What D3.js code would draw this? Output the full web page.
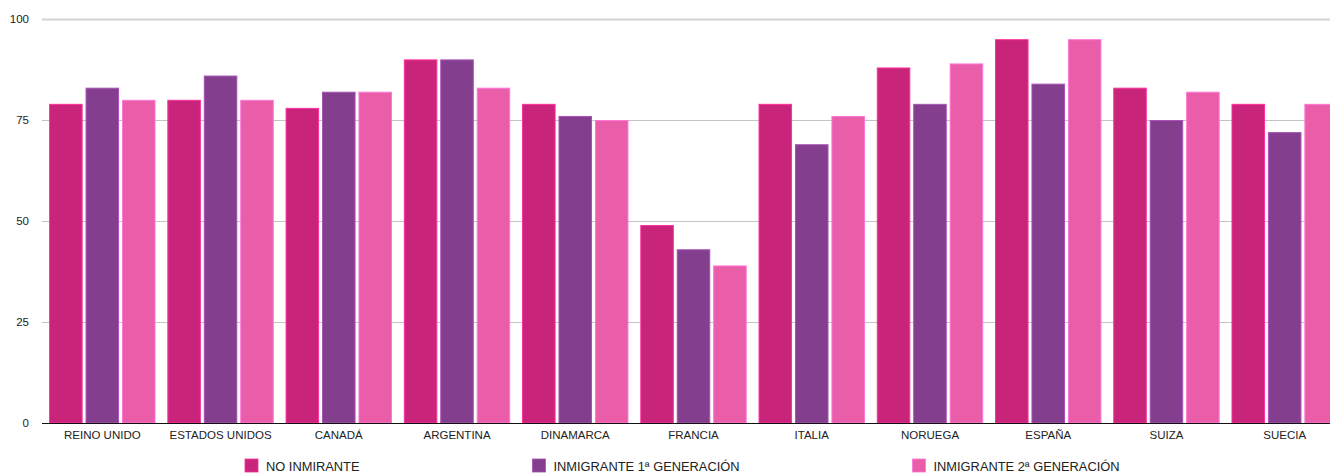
<!DOCTYPE html>
<html>
<head>
<meta charset="utf-8">
<script src="https://cdn.jsdelivr.net/npm/d3@7"></script>
<style>
  html, body { margin: 0; padding: 0; background: #fff; }
  svg { display: block; }
  text { font-family: "Liberation Sans", Arial, Helvetica, sans-serif; fill: #222; }
</style>
</head>
<body>
<svg id="chart" width="1330" height="473"></svg>
<script>
const categories = ["REINO UNIDO", "ESTADOS UNIDOS", "CANADÁ", "ARGENTINA", "DINAMARCA", "FRANCIA", "ITALIA", "NORUEGA", "ESPAÑA", "SUIZA", "SUECIA"];
const seriesNames = ["NO INMIRANTE", "INMIGRANTE 1ª GENERACIÓN", "INMIGRANTE 2ª GENERACIÓN"];
const noInmigrante = [79, 80, 78, 90, 79, 49, 79, 88, 95, 83, 79];
const inmigrante1 = [83, 86, 82, 90, 76, 43, 69, 79, 84, 75, 72];
const inmigrante2 = [80, 80, 82, 83, 75, 39, 76, 89, 95, 82, 79];
const yTicks = [0, 25, 50, 75, 100];
const colors = ["#C8247A", "#833F8E", "#EA5DA8"];

const seriesValues = [noInmigrante, inmigrante1, inmigrante2];
const svg = d3.select("#chart");

const mLeft = 42, mRight = 1345, mTop = 19, mBottom = 423;

const x0 = d3.scaleBand().domain(categories).range([mLeft, mRight]).paddingInner(0.1).paddingOuter(0.06);
const x1 = d3.scaleBand().domain(d3.range(3)).range([0, x0.bandwidth()]).paddingInner(0.08).paddingOuter(0);
const y = d3.scaleLinear().domain([0, 100]).range([mBottom, mTop]);

// gridlines
const grid = svg.append("g");
grid.selectAll("line").data(yTicks.filter(d => d > 0)).join("line")
  .attr("x1", mLeft).attr("x2", 1330)
  .attr("y1", d => Math.round(y(d)) + 0.5).attr("y2", d => Math.round(y(d)) + 0.5)
  .attr("stroke", d => d === 100 ? "#d4d4d4" : "#c4c4c4")
  .attr("stroke-width", d => d === 100 ? 2 : 1);

// y labels
const yAxis = d3.axisLeft(y).tickValues(yTicks).tickSize(0).tickPadding(0);
const yg = svg.append("g").attr("transform", `translate(${mLeft - 13},0)`).call(yAxis);
yg.select(".domain").remove();
yg.selectAll("text").attr("font-size", "11.5px").attr("fill", "#222")
  .attr("font-family", '"Liberation Sans", Arial, sans-serif');

// bars
const groups = svg.append("g").selectAll("g").data(categories).join("g")
  .attr("transform", d => `translate(${x0(d)},0)`);
groups.selectAll("rect").data((d, i) => seriesValues.map((s, k) => ({k, v: s[i]}))).join("rect")
  .attr("x", d => x1(d.k) + 0.5)
  .attr("width", x1.bandwidth() - 1)
  .attr("y", d => y(d.v) + 0.5)
  .attr("height", d => y(0) - y(d.v) - 0.5)
  .attr("fill", d => colors[d.k])
  .attr("stroke", d => d3.color(colors[d.k]).brighter(0.7))
  .attr("stroke-width", 1);

// x axis
const xAxis = d3.axisBottom(x0).tickSize(0).tickPadding(0);
const xg = svg.append("g").attr("transform", `translate(0,${mBottom})`).call(xAxis);
xg.select(".domain").remove();
svg.append("line").attr("x1", mLeft).attr("x2", 1330)
  .attr("y1", mBottom + 0.5).attr("y2", mBottom + 0.5).attr("stroke", "#111").attr("stroke-width", 1.2);
xg.selectAll("text").attr("dy", "16px").attr("font-size", "11.5px").attr("fill", "#222")
  .attr("font-family", '"Liberation Sans", Arial, sans-serif');

// legend
const legend = svg.append("g").attr("transform", "translate(245,459)");
let lx = 0;
seriesNames.forEach((name, i) => {
  const g = legend.append("g").attr("transform", `translate(${lx},0)`);
  g.append("rect").attr("width", 13).attr("height", 13).attr("fill", colors[i])
    .attr("stroke", d3.color(colors[i]).brighter(0.7)).attr("stroke-width", 0.8);
  const t = g.append("text").attr("x", 21).attr("y", 11.5).attr("font-size", "12.85px").text(name);
  const w = t.node().getComputedTextLength();
  lx += 21 + w + 173;
});
</script>
</body>
</html>
